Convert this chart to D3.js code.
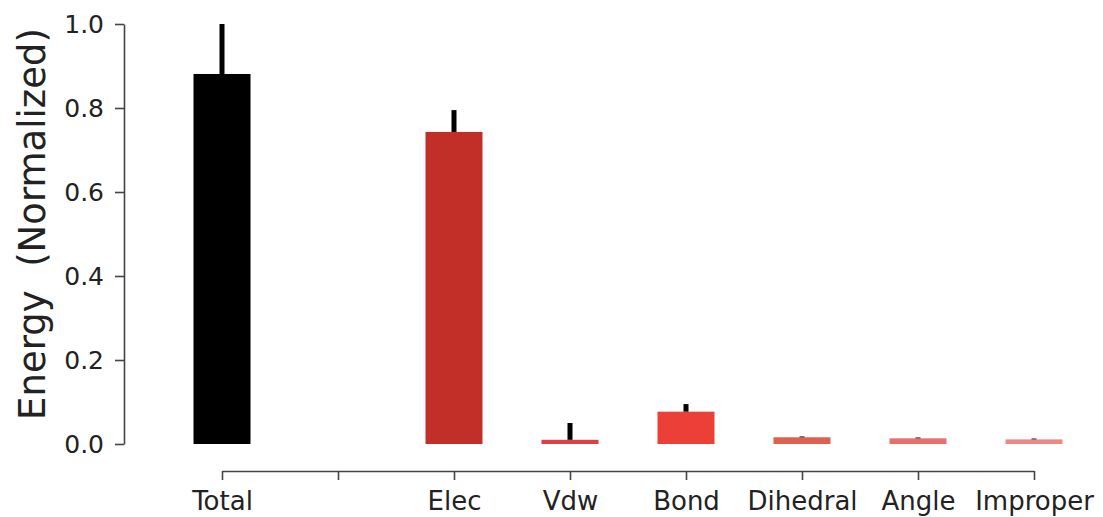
<!DOCTYPE html>
<html>
<head>
<meta charset="utf-8">
<script src="https://cdn.jsdelivr.net/npm/d3@7"></script>
<style>
  html, body { margin: 0; padding: 0; background: #fff; }
  svg { display: block; }
  .tick text { font-family: "DejaVu Sans", sans-serif; }
</style>
</head>
<body>
<svg id="chart" width="1103" height="517"></svg>
<script>
// Energy components (normalized), with upper error extent
const categories = ["Total", "", "Elec", "Vdw", "Bond", "Dihedral", "Angle", "Improper"];
const values     = [0.881, null, 0.743, 0.010, 0.077, 0.016, 0.0135, 0.011];
const errors     = [0.119, null, 0.052, 0.040, 0.018, 0.002, 0.002, 0.002];
const colors     = ["#000000", null, "#c22f29", "#dd3f44", "#ec3f38", "#e0604e", "#e8706c", "#ee8884"];
const yTicks     = [0.0, 0.2, 0.4, 0.6, 0.8, 1.0];

const svg = d3.select("#chart");

const keys = categories.map((c, i) => i);
const x = d3.scalePoint().domain(keys).range([222, 1034]);
const y = d3.scaleLinear().domain([0, 1]).range([444, 24]);
const barW = 57;
const errW = 5;

const data = keys.filter(i => values[i] !== null).map(i => ({ i, v: values[i], e: errors[i], c: colors[i] }));

// bars
svg.append("g").selectAll("rect.bar").data(data).join("rect")
  .attr("class", "bar")
  .attr("x", d => x(d.i) - barW / 2)
  .attr("width", barW)
  .attr("y", d => y(d.v))
  .attr("height", d => y(0) - y(d.v))
  .attr("fill", d => d.c);

// error bars (upper part, above each bar)
svg.append("g").selectAll("rect.err").data(data).join("rect")
  .attr("class", "err")
  .attr("x", d => x(d.i) - errW / 2)
  .attr("width", errW)
  .attr("y", d => y(d.v + d.e))
  .attr("height", d => y(d.v) - y(d.v + d.e))
  .attr("fill", "#000");

// y axis
const yAxis = d3.axisLeft(y).tickValues(yTicks).tickFormat(d3.format(".1f"))
  .tickSizeInner(9).tickSizeOuter(0).tickPadding(11);
const gy = svg.append("g").attr("transform", "translate(124,0)").call(yAxis);
gy.select(".domain").attr("stroke", "#444").attr("stroke-width", 1.6);
gy.selectAll(".tick line").attr("stroke", "#444").attr("stroke-width", 1.6);
gy.selectAll(".tick text").attr("font-size", 25).attr("fill", "#222");

// x axis
const xAxis = d3.axisBottom(x).tickFormat(i => categories[i])
  .tickSizeInner(9).tickSizeOuter(0).tickPadding(12);
const gx = svg.append("g").attr("transform", "translate(0,471)").call(xAxis);
gx.select(".domain").attr("stroke", "#444").attr("stroke-width", 1.6);
gx.selectAll(".tick line").attr("stroke", "#444").attr("stroke-width", 1.6);
gx.selectAll(".tick text").attr("font-size", 26).attr("fill", "#222");

// y label
svg.append("text")
  .attr("transform", "translate(45,224) rotate(-90)")
  .attr("text-anchor", "middle")
  .attr("font-family", "DejaVu Sans, sans-serif")
  .attr("font-size", 37)
  .attr("fill", "#222")
  .style("white-space", "pre")
  .text("Energy  (Normalized)");
</script>
</body>
</html>
